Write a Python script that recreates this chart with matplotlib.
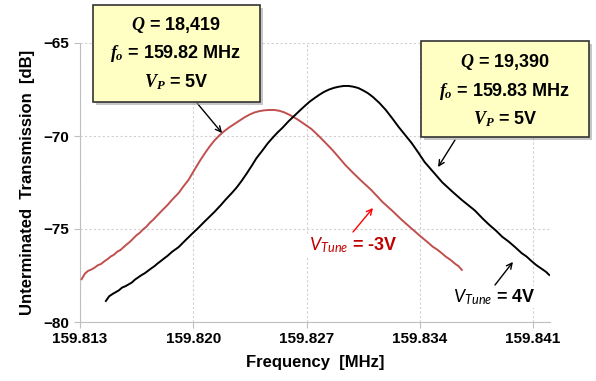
import matplotlib
matplotlib.use("Agg")
import matplotlib.pyplot as plt
from matplotlib.patches import Rectangle

# Ablesung aus dem Bild: Frequenz [MHz] und Transmission [dB]
red_f = [159.8131, 159.8133, 159.8135, 159.8137, 159.8139, 159.8141, 159.8143, 159.8145,
         159.8147, 159.8149, 159.8151, 159.8153, 159.8155, 159.8157, 159.8159, 159.8161,
         159.8163, 159.8165, 159.8167, 159.8169, 159.8171, 159.8173, 159.8175, 159.8178,
         159.8181, 159.8184, 159.8187, 159.8191, 159.8194, 159.8197, 159.8201, 159.8204,
         159.8207, 159.8210, 159.8213, 159.8216, 159.8219, 159.8222, 159.8226, 159.8229,
         159.8232, 159.8235, 159.8238, 159.8241, 159.8244, 159.8247, 159.8250, 159.8253,
         159.8256, 159.8259, 159.8262, 159.8265, 159.8269, 159.8273, 159.8277, 159.8281,
         159.8286, 159.8290, 159.8294, 159.8299, 159.8304, 159.8310, 159.8317, 159.8323,
         159.8329, 159.8335, 159.8341, 159.8345, 159.8348, 159.8351, 159.8354, 159.8356,
         159.8359, 159.8362, 159.8364, 159.8366]
red_db = [-77.70, -77.40, -77.25, -77.18, -77.08, -76.95, -76.88, -76.74,
          -76.62, -76.48, -76.38, -76.22, -76.13, -75.97, -75.82, -75.68,
          -75.50, -75.33, -75.20, -75.02, -74.88, -74.68, -74.52, -74.25,
          -73.98, -73.72, -73.42, -73.06, -72.70, -72.37, -71.78, -71.35,
          -70.95, -70.58, -70.25, -69.98, -69.75, -69.55, -69.32, -69.15,
          -68.98, -68.84, -68.73, -68.66, -68.62, -68.60, -68.60, -68.64,
          -68.72, -68.84, -68.98, -69.14, -69.38, -69.62, -69.95, -70.30,
          -70.75, -71.15, -71.56, -72.00, -72.42, -72.90, -73.55, -74.02,
          -74.52, -74.98, -75.43, -75.72, -75.95, -76.12, -76.33, -76.48,
          -76.66, -76.88, -77.00, -77.20]

blk_f = [159.8146, 159.8148, 159.8150, 159.8152, 159.8154, 159.8156, 159.8158, 159.8160,
         159.8162, 159.8164, 159.8166, 159.8168, 159.8170, 159.8172, 159.8174, 159.8176,
         159.8178, 159.8180, 159.8182, 159.8184, 159.8187, 159.8191, 159.8195, 159.8199,
         159.8203, 159.8207, 159.8213, 159.8217, 159.8220, 159.8224, 159.8227, 159.8230,
         159.8233, 159.8236, 159.8239, 159.8243, 159.8246, 159.8249, 159.8252, 159.8255,
         159.8259, 159.8263, 159.8266, 159.8269, 159.8272, 159.8275, 159.8278, 159.8281,
         159.8284, 159.8287, 159.8290, 159.8293, 159.8296, 159.8299, 159.8302, 159.8305,
         159.8308, 159.8311, 159.8315, 159.8319, 159.8323, 159.8327, 159.8331, 159.8335,
         159.8339, 159.8343, 159.8348, 159.8354, 159.8360, 159.8366, 159.8370, 159.8374,
         159.8379, 159.8383, 159.8387, 159.8391, 159.8395, 159.8399, 159.8403, 159.8406,
         159.8409, 159.8412, 159.8415, 159.8418, 159.8420]
blk_db = [-78.87, -78.62, -78.50, -78.40, -78.30, -78.15, -78.08, -77.98,
          -77.88, -77.72, -77.60, -77.48, -77.38, -77.25, -77.12, -77.00,
          -76.85, -76.72, -76.58, -76.45, -76.22, -75.97, -75.62, -75.28,
          -74.95, -74.60, -74.09, -73.72, -73.42, -73.05, -72.75, -72.40,
          -72.02, -71.62, -71.20, -70.75, -70.40, -70.10, -69.82, -69.57,
          -69.20, -68.87, -68.62, -68.38, -68.15, -67.96, -67.78, -67.62,
          -67.50, -67.41, -67.35, -67.31, -67.31, -67.35, -67.42, -67.55,
          -67.70, -67.90, -68.22, -68.60, -69.05, -69.52, -69.95, -70.38,
          -70.88, -71.40, -71.90, -72.50, -72.98, -73.44, -73.72, -74.00,
          -74.45, -74.78, -75.08, -75.42, -75.68, -75.98, -76.30, -76.48,
          -76.72, -76.94, -77.12, -77.30, -77.47]

x_ticks = [159.813, 159.820, 159.827, 159.834, 159.841]
y_ticks = [-80, -75, -70, -65]

box1_lines = ["$Q$ = 18,419", "$f_o$ = 159.82 MHz", "$V_P$ = 5V"]
box2_lines = ["$Q$ = 19,390", "$f_o$ = 159.83 MHz", "$V_P$ = 5V"]

plt.rcParams['font.family'] = ['Liberation Sans', 'DejaVu Sans']
plt.rcParams['mathtext.fontset'] = 'custom'
plt.rcParams['mathtext.it'] = 'Liberation Serif:italic:bold'
plt.rcParams['mathtext.rm'] = 'Liberation Serif:bold'
plt.rcParams['mathtext.sf'] = 'Lato:italic'

W, H = 596, 381
def px(x, y):
	# Pixel (von oben links) -> Figurbruch
	return x / W, 1 - y / H

fig = plt.figure(figsize=(W / 100, H / 100), dpi=100)
ax = fig.add_axes([80 / W, 1 - 322 / H, 470 / W, 279 / H])

grid = '#d0d0d0'
ax.plot(red_f, red_db, color='#c0504d', lw=1.4, zorder=3)
ax.plot(blk_f, blk_db, color='black', lw=1.4, zorder=3)

ax.set_xlim(159.813, 159.84205)
ax.set_ylim(-80, -65)
ax.set_xticks(x_ticks)
ax.set_xticklabels(["%.3f" % v for v in x_ticks])
ax.set_yticks(y_ticks)
ax.grid(True, color=grid, ls=(0, (2, 2)), lw=0.8)
for s in ['top', 'right']:
	ax.spines[s].set_visible(False)
for s in ['left', 'bottom']:
	ax.spines[s].set_color('#bfbfbf')
ax.tick_params(colors='#bfbfbf', length=4, labelcolor='black', labelsize=11)
for lab in ax.get_xticklabels() + ax.get_yticklabels():
	lab.set_fontweight('bold')
ax.set_xlabel("Frequency  [MHz]", fontsize=12, fontweight='bold', labelpad=6)
ax.set_ylabel("Unterminated  Transmission  [dB]", fontsize=12, fontweight='bold', labelpad=6)

# Kästen mit Schatten
def box(x0, y0, x1, y1, lines, cx, ys):
	sx, sy = px(x0 + 3, y1 + 3)
	w, h = (x1 - x0) / W, (y1 - y0) / H
	fig.patches.append(Rectangle((sx, sy), w, h, transform=fig.transFigure,
		fc='#a0a0a0', ec='none', alpha=0.6, zorder=4))
	bx, by = px(x0, y1)
	fig.patches.append(Rectangle((bx, by), w, h, transform=fig.transFigure,
		fc='#ffffc4', ec='#333333', lw=1.2, zorder=5))
	for t, y in zip(lines, ys):
		fx, fy = px(cx, y)
		fig.text(fx, fy, t, ha='center', va='center', fontsize=13,
			fontweight='bold', zorder=6)

box(93, 5, 260, 102, box1_lines, 176, [25, 53, 82])
box(421, 41, 589, 137, box2_lines, 505, [62, 91, 119])

arr = dict(arrowstyle='->', color='black', lw=1.0, shrinkA=0, shrinkB=0)
ax.annotate('', xy=(159.82178, -69.84), xytext=px(197, 103), textcoords='figure fraction',
	arrowprops=arr, annotation_clip=False, zorder=7)
ax.annotate('', xy=(159.83513, -71.67), xytext=px(455, 140), textcoords='figure fraction',
	arrowprops=arr, annotation_clip=False, zorder=7)

ax.annotate('', xy=(159.83111, -73.87), xytext=px(353, 232), textcoords='figure fraction',
	arrowprops=dict(arrowstyle='->', color='red', lw=1.0, shrinkA=0, shrinkB=0), zorder=7)
ax.annotate('', xy=(159.83976, -76.77), xytext=px(495, 285), textcoords='figure fraction',
	arrowprops=arr, zorder=7)

fx, fy = px(353, 245)
fig.text(fx, fy, r"$\mathsf{V_{Tune}}$ = -3V", color='#c00000', ha='center', va='center',
	fontsize=13, fontweight='bold', bbox=dict(fc='white', ec='none', pad=1))
fx, fy = px(494, 297)
fig.text(fx, fy, r"$\mathsf{V_{Tune}}$ = 4V", color='black', ha='center', va='center',
	fontsize=13, fontweight='bold', bbox=dict(fc='white', ec='none', pad=1))

fig.savefig("out.png", dpi=100)
